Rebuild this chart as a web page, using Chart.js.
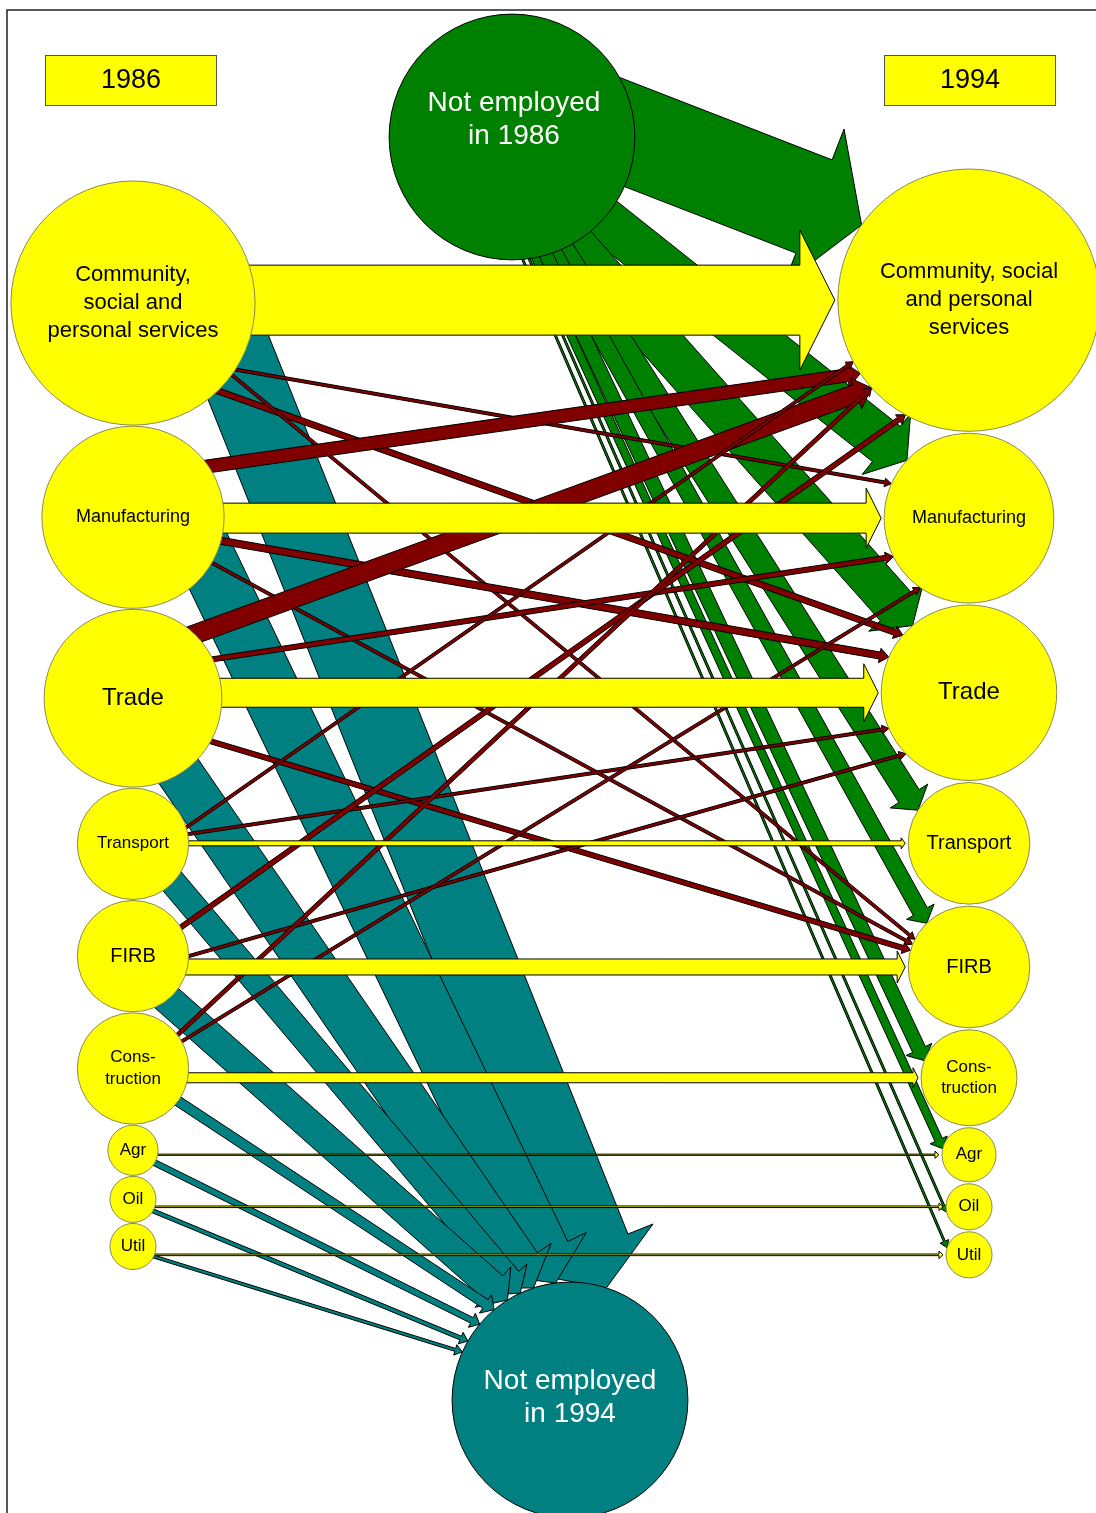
<!DOCTYPE html>
<html>
<head>
<meta charset="utf-8">
<script src="https://cdn.jsdelivr.net/npm/chart.js@4.4.1/dist/chart.umd.min.js"></script>
<style>
  html, body { margin: 0; padding: 0; background: #fff; }
  #wrap { width: 1096px; height: 1513px; position: relative; }
</style>
</head>
<body>
<div id="wrap"><canvas id="flows"></canvas></div>
<script>
// sectors, in the order they are stacked down each column
var sectors = ['Community, social and personal services', 'Manufacturing', 'Trade', 'Transport', 'FIRB', 'Construction', 'Agr', 'Oil', 'Util'];
var labels1986 = [['Community,', 'social and', 'personal services'], ['Manufacturing'], ['Trade'], ['Transport'], ['FIRB'], ['Cons-', 'truction'], ['Agr'], ['Oil'], ['Util']];
var labels1994 = [['Community, social', 'and personal', 'services'], ['Manufacturing'], ['Trade'], ['Transport'], ['FIRB'], ['Cons-', 'truction'], ['Agr'], ['Oil'], ['Util']];

// employment per sector (circle area)
var size1986 = [149, 83, 79, 31, 31, 31, 6.3, 5.3, 5.3];
var size1994 = [172, 72, 77, 37, 37, 23, 7.3, 5.3, 5.3];
var notEmployed = [151, 139]; // 1986, 1994

// flows (arrow width)
var stayed  = [70, 30, 29, 5, 16, 10, 1.2, 1.6, 1.6];
var entered = [100, 45, 42, 24, 16, 14, 8, 2, 2];   // not employed 1986 -> sector 1994
var exited  = [80, 58, 46, 26, 30, 10, 6, 4, 3];    // sector 1986 -> not employed 1994
var moveFrom = [0, 0, 0, 1, 1, 1, 2, 2, 2, 3, 3, 4, 4, 5, 5];
var moveTo   = [1, 2, 4, 0, 2, 4, 0, 1, 4, 0, 2, 0, 2, 0, 1];
var moved    = [3, 6, 3, 13, 7, 3, 19, 5, 5, 3, 3, 5, 3, 4, 3];

// layout, in axis units
var layout = { leftX: 133, rightX: 969, leftTop: 181, rightTop: 169, leftGap: 1, rightGap: 2,
  ne1986: [512, 137], ne1994: [570, 1400] };
// where arrows leave / meet circles, degrees clockwise from east
var enterAngles = [[0, 215], [42, 223], [60, 230], [66, 213], [70, 226], [74, 201], [79, 193], [82, 166], [85, 198]];
var exitAngles = [[31, -72], [32, -97], [58, -108], [44, -115], [51, -122], [36, -130], [30, -140], [30, -150], [26, -156]];
var moveAngles = [[33, 204], [46, 221], [36, 207], [-34, 146], [15, 204], [30, 202], [-46, 138], [-26, 153], [29, 196],
  [-17, 152], [-10, 156], [-31, 119], [0, 136], [-37, 138], [-29, 125]];

var colors = { stay: '#ffff00', enter: '#008000', exit: '#008080', move: '#800000' };
var font1986 = [22, 18, 24, 17, 20, 17, 17, 17, 17];
var font1994 = [22, 18, 24, 20, 20, 17, 17, 17, 17];
var FONT = '"Liberation Sans", Arial, sans-serif';

function radiusOf(v) { return 10 * Math.sqrt(v); }

function stack(sizes, top, gap) {
  var ys = [], y = top;
  sizes.forEach(function (v) {
    var r = radiusOf(v);
    ys.push(y + r);
    y += 2 * r + gap;
  });
  return ys;
}
var y1986 = stack(size1986, layout.leftTop, layout.leftGap);
var y1994 = stack(size1994, layout.rightTop, layout.rightGap);

var pts1986 = sectors.map(function (s, i) { return { x: layout.leftX, y: y1986[i], size: size1986[i] }; });
var pts1994 = sectors.map(function (s, i) { return { x: layout.rightX, y: y1994[i], size: size1994[i] }; });
var ptsNE = [
  { x: layout.ne1986[0], y: layout.ne1986[1], size: notEmployed[0] },
  { x: layout.ne1994[0], y: layout.ne1994[1], size: notEmployed[1] }
];

function pxLen(chart, v) {
  var s = chart.scales.y;
  return Math.abs(s.getPixelForValue(v) - s.getPixelForValue(0));
}
function node(chart, p) {
  return { x: chart.scales.x.getPixelForValue(p.x), y: chart.scales.y.getPixelForValue(p.y), r: pxLen(chart, radiusOf(p.size)) };
}
function onCircle(n, deg) {
  var a = deg * Math.PI / 180;
  return [n.x + n.r * Math.cos(a), n.y + n.r * Math.sin(a)];
}

function arrow(ctx, s, e, w, head, fill) {
  var dx = e[0] - s[0], dy = e[1] - s[1], len = Math.hypot(dx, dy);
  var ux = dx / len, uy = dy / len, nx = -uy, ny = ux;
  var back = w / 2 + 6; // tail tucked under the source circle
  var sx = s[0] - ux * back, sy = s[1] - uy * back;
  var bx = e[0] - ux * head.len, by = e[1] - uy * head.len;
  var hw = w / 2, hh = head.width / 2;
  ctx.beginPath();
  ctx.moveTo(sx + nx * hw, sy + ny * hw);
  ctx.lineTo(bx + nx * hw, by + ny * hw);
  ctx.lineTo(bx + nx * hh, by + ny * hh);
  ctx.lineTo(e[0], e[1]);
  ctx.lineTo(bx - nx * hh, by - ny * hh);
  ctx.lineTo(bx - nx * hw, by - ny * hw);
  ctx.lineTo(sx - nx * hw, sy - ny * hw);
  ctx.closePath();
  ctx.fillStyle = fill;
  ctx.fill();
  ctx.lineWidth = 1;
  ctx.strokeStyle = '#000';
  ctx.stroke();
}

function drawLabel(ctx, lines, x, y, size, color, lhf) {
  ctx.font = size + 'px ' + FONT;
  ctx.fillStyle = color;
  ctx.textAlign = 'center';
  ctx.textBaseline = 'middle';
  var lh = size * (lhf || 1.28), top = y - (lines.length - 1) * lh / 2;
  lines.forEach(function (t, i) { ctx.fillText(t, x, top + i * lh); });
}

var flowPlugin = {
  id: 'flows',
  beforeDatasetsDraw: function (chart) {
    var ctx = chart.ctx;
    var L = pts1986.map(function (p) { return node(chart, p); });
    var R = pts1994.map(function (p) { return node(chart, p); });
    var ne86 = node(chart, ptsNE[0]), ne94 = node(chart, ptsNE[1]);
    ctx.save();
    // frame
    ctx.strokeStyle = '#222';
    ctx.lineWidth = 1.5;
    ctx.beginPath();
    ctx.moveTo(7, chart.height);
    ctx.lineTo(7, 10);
    ctx.lineTo(chart.width, 10);
    ctx.stroke();

    // entrants
    entered.forEach(function (v, i) {
      var w = pxLen(chart, v);
      arrow(ctx, onCircle(ne86, enterAngles[i][0]), onCircle(R[i], enterAngles[i][1]), w,
        { width: 1.6 * w + 6, len: 0.45 * w + 6 }, colors.enter);
    });
    // leavers
    exited.forEach(function (v, i) {
      var w = pxLen(chart, v);
      arrow(ctx, onCircle(L[i], exitAngles[i][0]), onCircle(ne94, exitAngles[i][1]), w,
        { width: 1.6 * w + 6, len: 0.45 * w + 6 }, colors.exit);
    });
    // movers between sectors
    moved.forEach(function (v, k) {
      var w = pxLen(chart, v);
      arrow(ctx, onCircle(L[moveFrom[k]], moveAngles[k][0]), onCircle(R[moveTo[k]], moveAngles[k][1]), w,
        { width: 1.5 * w + 4, len: 0.6 * w + 5 }, colors.move);
    });
    // stayers, drawn level with the 1994 circle
    stayed.forEach(function (v, i) {
      var w = pxLen(chart, v);
      var y = R[i].y, dy = y - L[i].y;
      var sx = L[i].x + Math.sqrt(Math.max(L[i].r * L[i].r - dy * dy, 0)) - 10;
      var ex = R[i].x - R[i].r - 3;
      arrow(ctx, [sx, y], [ex, y], w, { width: Math.max(2 * w, w + 6), len: Math.max(0.5 * w, 4) }, colors.stay);
    });
    ctx.restore();
  },
  afterDatasetsDraw: function (chart) {
    var ctx = chart.ctx;
    ctx.save();
    pts1986.forEach(function (p, i) {
      var n = node(chart, p);
      drawLabel(ctx, labels1986[i], n.x, n.y, font1986[i], '#000');
    });
    pts1994.forEach(function (p, i) {
      var n = node(chart, p);
      drawLabel(ctx, labels1994[i], n.x, n.y, font1994[i], '#000');
    });
    var ne86 = node(chart, ptsNE[0]), ne94 = node(chart, ptsNE[1]);
    drawLabel(ctx, ['Not employed', 'in 1986'], ne86.x + 2, ne86.y - 17, 28, '#fff', 1.18);
    drawLabel(ctx, ['Not employed', 'in 1994'], ne94.x, ne94.y - 2, 28, '#fff', 1.18);

    // year boxes
    [['1986', 45], ['1994', 884]].forEach(function (b) {
      ctx.fillStyle = '#ffff00';
      ctx.fillRect(b[1], 55, 171, 50);
      ctx.strokeStyle = '#555';
      ctx.lineWidth = 1;
      ctx.strokeRect(b[1] + 0.5, 55.5, 171, 50);
      drawLabel(ctx, [b[0]], b[1] + 86, 81, 27, '#000');
    });
    ctx.restore();
  }
};

function circleRadius(c) {
  return c.raw ? pxLen(c.chart, radiusOf(c.raw.size)) : 0;
}

new Chart(document.getElementById('flows'), {
  type: 'scatter',
  data: {
    datasets: [
      { label: '1986', data: pts1986, backgroundColor: '#ffff00', borderColor: '#8a8a55', borderWidth: 1, clip: false },
      { label: '1994', data: pts1994, backgroundColor: '#ffff00', borderColor: '#8a8a55', borderWidth: 1, clip: false },
      { label: 'Not employed', data: ptsNE, backgroundColor: [colors.enter, colors.exit], borderColor: '#000', borderWidth: 1, clip: false }
    ]
  },
  options: {
    responsive: true,
    maintainAspectRatio: false,
    animation: false,
    events: [],
    layout: { padding: 0 },
    plugins: { legend: { display: false }, tooltip: { enabled: false } },
    elements: { point: { radius: circleRadius, hoverRadius: circleRadius } },
    scales: {
      x: { type: 'linear', min: 0, max: 1096, display: false },
      y: { type: 'linear', min: 0, max: 1513, reverse: true, display: false }
    }
  },
  plugins: [flowPlugin]
});
</script>
</body>
</html>
